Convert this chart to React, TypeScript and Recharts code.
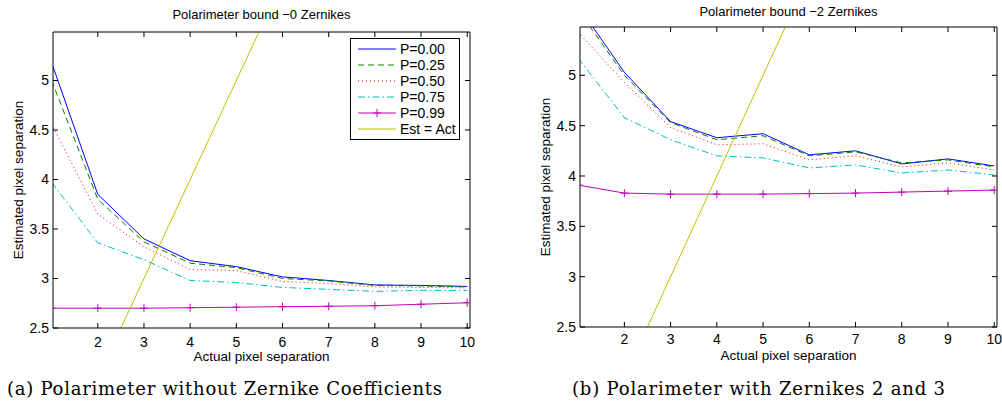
import React from "react";
import { LineChart, Line, XAxis, YAxis, Legend } from "recharts";

// actual pixel separation (x)
const separations = [1, 2, 3, 4, 5, 6, 7, 8, 9, 10];
const xTicks = [2, 3, 4, 5, 6, 7, 8, 9, 10];
const yTicks = [2.5, 3, 3.5, 4, 4.5, 5];

// (a) polarimeter without zernike coefficients
const noZernP000 = [5.18, 3.85, 3.4, 3.18, 3.12, 3.016, 2.98, 2.935, 2.93, 2.92];
const noZernP025 = [5.0, 3.8, 3.37, 3.155, 3.11, 3.0, 2.975, 2.93, 2.925, 2.915];
const noZernP050 = [4.56, 3.65, 3.32, 3.09, 3.08, 2.97, 2.95, 2.915, 2.91, 2.905];
const noZernP075 = [3.97, 3.36, 3.19, 2.98, 2.96, 2.91, 2.89, 2.87, 2.88, 2.88];
const noZernP099 = [2.7, 2.7, 2.7, 2.705, 2.71, 2.715, 2.72, 2.725, 2.74, 2.755];

// (b) polarimeter with zernikes 2 and 3
const zern23P000 = [5.69, 5.03, 4.54, 4.38, 4.42, 4.21, 4.25, 4.12, 4.17, 4.1];
const zern23P025 = [5.65, 5.0, 4.53, 4.36, 4.4, 4.2, 4.24, 4.13, 4.16, 4.09];
const zern23P050 = [5.43, 4.93, 4.48, 4.31, 4.32, 4.16, 4.2, 4.09, 4.13, 4.06];
const zern23P075 = [5.17, 4.58, 4.36, 4.2, 4.18, 4.08, 4.11, 4.03, 4.06, 4.01];
const zern23P099 = [3.91, 3.83, 3.82, 3.82, 3.82, 3.825, 3.83, 3.84, 3.85, 3.86];

// Est = Act reference line
const identityLine = [
  { x: 1, est: 1 },
  { x: 10, est: 10 },
];

const series = [
  { key: "p000", name: "P=0.00", color: "#0000ff", dash: undefined, plus: false },
  { key: "p025", name: "P=0.25", color: "#008000", dash: "6 4", plus: false },
  { key: "p050", name: "P=0.50", color: "#ff0000", dash: "1 3", plus: false },
  { key: "p075", name: "P=0.75", color: "#00bfbf", dash: "7 3 1.5 3", plus: false },
  { key: "p099", name: "P=0.99", color: "#bf00bf", dash: undefined, plus: true },
];
const identityColor = "#bfbf00";

const sansFont = "'Liberation Sans', Arial, sans-serif";

function buildRows(p000: number[], p025: number[], p050: number[], p075: number[], p099: number[]) {
  return separations.map((x, i) => ({
    x,
    p000: p000[i],
    p025: p025[i],
    p050: p050[i],
    p075: p075[i],
    p099: p099[i],
  }));
}

const noZernRows = buildRows(noZernP000, noZernP025, noZernP050, noZernP075, noZernP099);
const zern23Rows = buildRows(zern23P000, zern23P025, zern23P050, zern23P075, zern23P099);

const PlusDot = (props: any) => {
  const { cx, cy, stroke, index } = props;
  if (cx == null || cy == null) return <g key={index} />;
  return (
    <path
      key={index}
      d={`M${cx - 4},${cy}H${cx + 4}M${cx},${cy - 4}V${cy + 4}`}
      stroke={stroke}
      strokeWidth={1}
      fill="none"
    />
  );
};

// tick marks on the top / right edges, without labels
const NoLabel = () => <g />;

function LegendBox() {
  const items = [...series, { key: "est", name: "Est = Act", color: identityColor, dash: undefined, plus: false }];
  return (
    <div
      style={{
        border: "1px solid #000",
        background: "#fff",
        padding: "2px 0 2px 7px",
        fontFamily: sansFont,
        fontSize: 14,
        color: "#000",
        boxSizing: "border-box",
        width: 110,
      }}
    >
      {items.map((item) => (
        <div key={item.key} style={{ display: "flex", alignItems: "center", height: 16 }}>
          <svg width={38} height={16} style={{ display: "block" }}>
            <line x1={0} x2={38} y1={8} y2={8} stroke={item.color} strokeDasharray={item.dash} />
            {item.plus && <path d="M19,4V12M15,8H23" stroke={item.color} fill="none" />}
          </svg>
          <span style={{ marginLeft: 4, whiteSpace: "nowrap", fontSize: 14, fontFamily: sansFont }}>{item.name}</span>
        </div>
      ))}
    </div>
  );
}

type PanelProps = {
  rows: any[];
  title: string;
  width: number;
  height: number;
  yAxisWidth: number;
  top: number;
  right: number;
  xAxisHeight: number;
  xDomain: [number, number];
  yDomain: [number, number];
  titleOffset: number;
  xTickMargin: number;
  xLabelOffset: number;
  yLabelOffset: number;
  showLegend: boolean;
};

function PolarimeterChart(p: PanelProps) {
  const tickStyle = { fill: "#000", fontSize: 14, fontFamily: sansFont };
  const labelStyle = { fill: "#000", fontSize: 13.5, fontFamily: sansFont };
  return (
    <LineChart
      width={p.width}
      height={p.height}
      data={p.rows}
      margin={{ top: p.top - 1, right: p.right - 1, bottom: 0, left: 0 }}
    >
      <XAxis
        type="number"
        dataKey="x"
        domain={p.xDomain}
        ticks={xTicks}
        allowDataOverflow
        height={p.xAxisHeight}
        tickSize={-5}
        tickMargin={p.xTickMargin}
        tick={tickStyle}
        stroke="#000"
        label={{ value: "Actual pixel separation", position: "insideBottom", offset: p.xLabelOffset, style: labelStyle }}
      />
      <XAxis
        xAxisId="top"
        orientation="top"
        type="number"
        dataKey="x"
        domain={p.xDomain}
        ticks={xTicks}
        allowDataOverflow
        height={1}
        tickSize={-5}
        tick={NoLabel}
        axisLine={{ stroke: "#000" }}
        tickLine={{ stroke: "#000" }}
        stroke="#000"
        label={{ value: p.title, position: "top", offset: p.titleOffset, style: { ...labelStyle, fontSize: 13 } }}
      />
      <YAxis
        type="number"
        domain={p.yDomain}
        ticks={yTicks}
        allowDataOverflow
        width={p.yAxisWidth}
        tickSize={-5}
        tickMargin={9}
        tick={tickStyle}
        stroke="#000"
        label={{
          value: "Estimated pixel separation",
          angle: -90,
          position: "insideLeft",
          offset: p.yLabelOffset,
          style: { ...labelStyle, textAnchor: "middle" },
        }}
      />
      <YAxis
        yAxisId="right"
        orientation="right"
        type="number"
        domain={p.yDomain}
        ticks={yTicks}
        allowDataOverflow
        width={1}
        tickSize={-5}
        tick={NoLabel}
        axisLine={{ stroke: "#000" }}
        tickLine={{ stroke: "#000" }}
        stroke="#000"
      />
      {series.map((s) => (
        <Line
          key={s.key}
          type="linear"
          dataKey={s.key}
          name={s.name}
          stroke={s.color}
          strokeWidth={1}
          strokeDasharray={s.dash}
          dot={s.plus ? PlusDot : false}
          activeDot={false}
          isAnimationActive={false}
        />
      ))}
      <Line
        xAxisId="top"
        yAxisId="right"
        type="linear"
        data={identityLine}
        dataKey="est"
        name="Est = Act"
        stroke={identityColor}
        strokeWidth={1}
        dot={false}
        activeDot={false}
        isAnimationActive={false}
      />
      {p.showLegend && (
        <Legend
          layout="vertical"
          align="center"
          verticalAlign="middle"
          content={<LegendBox />}
          wrapperStyle={{ top: 38, left: 350, width: 110, height: "auto" }}
        />
      )}
    </LineChart>
  );
}

export default function App() {
  return (
    <div style={{ position: "relative", width: 1002, height: 402, background: "#fff", overflow: "hidden" }}>
      <style>{`body{margin:0}`}</style>
      <div style={{ position: "absolute", left: 0, top: 0 }}>
        <PolarimeterChart
          rows={noZernRows}
          title="Polarimeter bound −0 Zernikes"
          width={490}
          height={366}
          yAxisWidth={53}
          top={32}
          right={20}
          xAxisHeight={38}
          xDomain={[1.03, 10.06]}
          yDomain={[2.5, 5.49]}
          titleOffset={12.5}
          xTickMargin={14}
          xLabelOffset={5}
          yLabelOffset={18}
          showLegend
        />
      </div>
      <div style={{ position: "absolute", left: 520, top: 0 }}>
        <PolarimeterChart
          rows={zern23Rows}
          title="Polarimeter bound −2 Zernikes"
          width={482}
          height={366}
          yAxisWidth={60}
          top={27}
          right={5}
          xAxisHeight={39}
          xDomain={[1.04, 10.06]}
          yDomain={[2.5, 5.48]}
          titleOffset={10}
          xTickMargin={12}
          xLabelOffset={6.5}
          yLabelOffset={25}
          showLegend={false}
        />
      </div>
      <svg width={1002} height={40} style={{ position: "absolute", left: 0, top: 362 }}>
        <text x={7} y={33} textLength={435} lengthAdjust="spacing" fontFamily="'DejaVu Serif', serif" fontSize={18} fill="#000">
          (a) Polarimeter without Zernike Coefficients
        </text>
        <text x={572} y={33} textLength={373} lengthAdjust="spacing" fontFamily="'DejaVu Serif', serif" fontSize={18} fill="#000">
          (b) Polarimeter with Zernikes 2 and 3
        </text>
      </svg>
    </div>
  );
}
